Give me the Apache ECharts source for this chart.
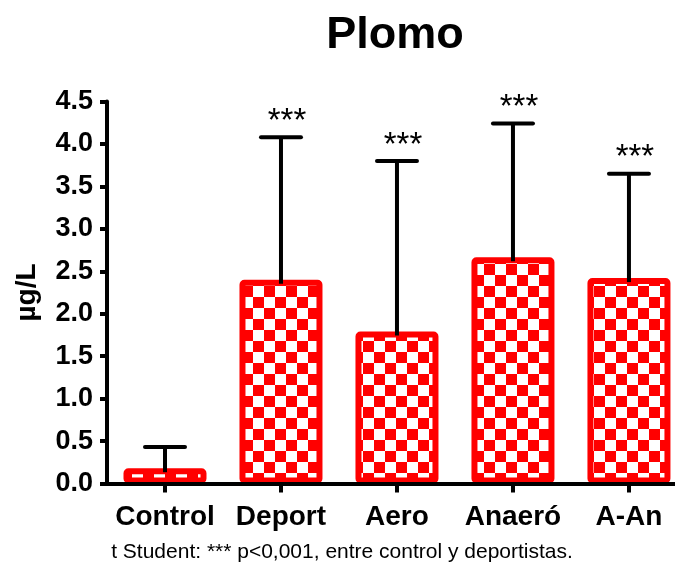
<!DOCTYPE html>
<html>
<head>
<meta charset="utf-8">
<script src="https://cdn.jsdelivr.net/npm/echarts@6/dist/echarts.min.js"></script>
<style>html,body{margin:0;padding:0;background:#fff;}#c{width:675px;height:563px;}</style>
</head>
<body>
<div id="c"></div>
<script>
var categories = ['Control', 'Deport', 'Aero', 'Anaeró', 'A-An'];
var means = [0.18, 2.40, 1.79, 2.665, 2.42];
var upperErr = [0.43, 4.08, 3.80, 4.24, 3.65];
var sigLabels = ['', '***', '***', '***', '***'];
var yTicks = [0, 0.5, 1.0, 1.5, 2.0, 2.5, 3.0, 3.5, 4.0, 4.5];

var pat = document.createElement('canvas');
pat.width = 22; pat.height = 22;
var pc = pat.getContext('2d');
pc.fillStyle = '#ffffff'; pc.fillRect(0, 0, 22, 22);
pc.fillStyle = '#ff0000'; pc.fillRect(0, 0, 11, 11); pc.fillRect(11, 11, 11, 11);

var font = 'Liberation Sans, Arial, sans-serif';
var chart = echarts.init(document.getElementById('c'), null, {renderer: 'canvas'});
var catIdx = categories.map(function (c, i) { return i; });
var barData = categories.map(function (c, i) { return [i, means[i]]; });
var errData = categories.map(function (c, i) { return [i, means[i], upperErr[i]]; });

chart.setOption({
  animation: false,
  backgroundColor: '#ffffff',
  title: {
    text: 'Plomo', left: 395, top: 13, textAlign: 'center', padding: 0,
    textStyle: {fontFamily: font, fontSize: 45, fontWeight: 'bold', color: '#000'}
  },
  grid: {left: 107, top: 101.5, height: 382, right: 0, containLabel: false},
  xAxis: {
    type: 'value', min: -0.5, max: 4.397, z: 5,
    splitLine: {show: false},
    axisLine: {show: true, onZero: false, lineStyle: {color: '#000', width: 4}},
    axisTick: {show: true, customValues: catIdx, length: 9, lineStyle: {color: '#000', width: 4}},
    axisLabel: {
      customValues: catIdx, margin: 20, color: '#000', fontFamily: font, fontSize: 28, fontWeight: 'bold',
      formatter: function (v) { return categories[Math.round(v)]; }
    }
  },
  yAxis: {
    type: 'value', min: 0, max: 4.5, interval: 0.5, z: 5,
    name: 'µg/L', nameLocation: 'middle', nameGap: 66, nameRotate: 90,
    nameTextStyle: {fontFamily: font, fontSize: 28, fontWeight: 'bold', color: '#000'},
    axisLine: {show: true, onZero: false, lineStyle: {color: '#000', width: 4}},
    axisTick: {show: true, length: 7, lineStyle: {color: '#000', width: 4}},
    splitLine: {show: false},
    axisLabel: {
      margin: 14, color: '#000', fontFamily: font, fontSize: 27, fontWeight: 'bold',
      formatter: function (v) { return v.toFixed(1); }
    }
  },
  series: [
    {
      type: 'bar', data: barData, barWidth: 83, z: 2,
      itemStyle: {color: {image: pat, repeat: 'repeat'}, borderColor: '#ff0000', borderWidth: 6, borderRadius: 2}
    },
    {
      type: 'custom', data: errData, z: 6,
      renderItem: function (params, api) {
        var i = api.value(0);
        var p0 = api.coord([i, api.value(1)]);
        var p1 = api.coord([i, api.value(2)]);
        var label = sigLabels[params.dataIndex];
        var children = [
          {type: 'line', shape: {x1: p0[0], y1: p0[1] + 4, x2: p1[0], y2: p1[1]}, style: {stroke: '#000', lineWidth: 4}},
          {type: 'line', shape: {x1: p1[0] - 20, y1: p1[1], x2: p1[0] + 20, y2: p1[1]}, style: {stroke: '#000', lineWidth: 4, lineCap: 'round'}}
        ];
        if (label) {
          children.push({type: 'text', style: {text: label, x: p1[0] + 6, y: p1[1] + 1, align: 'center', verticalAlign: 'bottom',
            font: 'normal 33px ' + font, fill: '#000'}});
        }
        return {type: 'group', children: children};
      }
    }
  ],
  graphic: [{
    type: 'text', x: 342, y: 552,
    style: {text: 't Student: *** p<0,001, entre control y deportistas.', align: 'center', verticalAlign: 'middle',
      font: 'normal 21px ' + font, fill: '#000'}
  }]
});
</script>
</body>
</html>
